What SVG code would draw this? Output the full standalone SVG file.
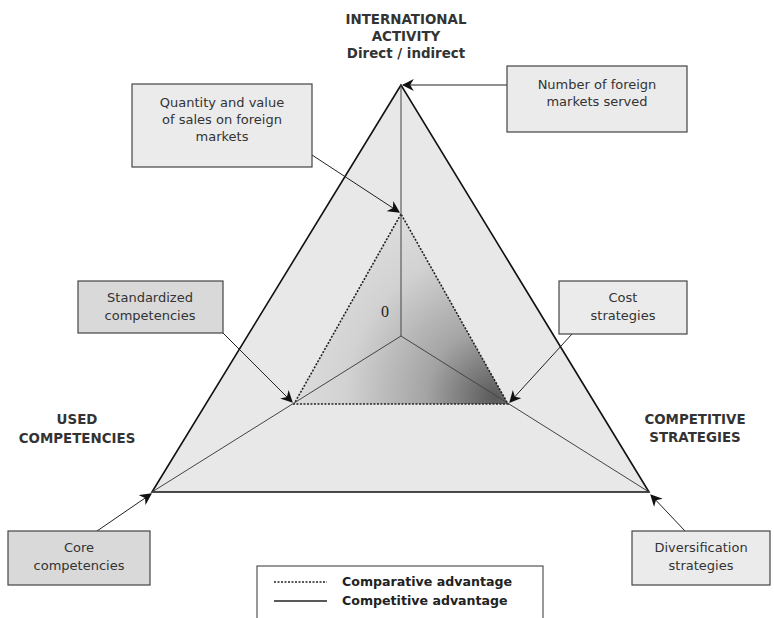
<svg xmlns="http://www.w3.org/2000/svg" width="774" height="618" viewBox="0 0 774 618">
  <style>
    .lbl { font-family: "DejaVu Sans", Verdana, sans-serif; font-size: 13px; fill: #333; text-anchor: middle; }
    .axis { font-family: "DejaVu Sans", Verdana, sans-serif; font-size: 13.4px; font-weight: bold; fill: #333; text-anchor: middle; }
    .leg { font-family: "DejaVu Sans", Verdana, sans-serif; font-size: 12.6px; font-weight: bold; fill: #222; }
    .box { fill: #ebebeb; stroke: #444; stroke-width: 1.2; }
    .box2 { fill: #d9d9d9; stroke: #444; stroke-width: 1.2; }
    .conn { fill: none; stroke: #222; stroke-width: 1; marker-end: url(#arr); }
    .spoke { stroke: #444; stroke-width: 1; fill: none; }
  </style>
  <defs>
    <marker id="arr" viewBox="0 0 10 10" refX="9" refY="5" markerWidth="12" markerHeight="12" markerUnits="userSpaceOnUse" orient="auto">
      <path d="M0,0 L10,5 L0,10 L3,5 Z" fill="#111"/>
    </marker>
    <radialGradient id="inner" gradientUnits="userSpaceOnUse" cx="495" cy="398" r="230">
      <stop offset="0" stop-color="#5a5a5a"/>
      <stop offset="0.3" stop-color="#a4a4a4"/>
      <stop offset="0.65" stop-color="#d2d2d2"/>
      <stop offset="1" stop-color="#e2e2e2"/>
    </radialGradient>
  </defs>
  <rect width="774" height="618" fill="#fff"/>

  <!-- outer triangle -->
  <g id="outer">
    <polygon points="401,85 152,492 649,492" fill="#e8e8e8" stroke="#111" stroke-width="1.6"/>
  </g>
  <!-- inner triangle (comparative advantage) -->
  <g id="inner-tri">
    <polygon points="401,214 294,404 508,404" fill="url(#inner)" stroke="#222" stroke-width="1.6" stroke-dasharray="2,1.5"/>
  </g>
  <!-- spokes from origin -->
  <g id="spokes">
    <line class="spoke" x1="401" y1="336" x2="401" y2="85"/>
    <line class="spoke" x1="401" y1="336" x2="152" y2="492"/>
    <line class="spoke" x1="401" y1="336" x2="649" y2="492"/>
  </g>
  <g id="origin"><text x="385" y="317" font-family="Liberation Serif, serif" font-size="16" fill="#222" text-anchor="middle">0</text></g>

  <!-- axis titles -->
  <g id="axis-international">
    <text class="axis" x="406" y="24">INTERNATIONAL</text>
    <text class="axis" x="406" y="41">ACTIVITY</text>
    <text class="axis" x="406" y="58">Direct / indirect</text>
  </g>
  <g id="axis-used">
    <text class="axis" x="77" y="424">USED</text>
    <text class="axis" x="77" y="443">COMPETENCIES</text>
  </g>
  <g id="axis-competitive">
    <text class="axis" x="695" y="424">COMPETITIVE</text>
    <text class="axis" x="695" y="442">STRATEGIES</text>
  </g>

  <!-- connectors -->
  <g id="connectors">
    <line class="conn" x1="312" y1="155" x2="399" y2="212"/>
    <line class="conn" x1="507" y1="85" x2="403" y2="85"/>
    <line class="conn" x1="223" y1="333" x2="292" y2="402"/>
    <line class="conn" x1="572" y1="334" x2="510" y2="402"/>
    <line class="conn" x1="97" y1="531" x2="151" y2="494"/>
    <line class="conn" x1="685" y1="531" x2="651" y2="495"/>
  </g>

  <!-- callout boxes -->
  <g id="quantity">
    <rect class="box" x="132" y="84" width="180" height="83"/>
    <text class="lbl" x="222" y="107">Quantity and value</text>
    <text class="lbl" x="222" y="124">of sales on foreign</text>
    <text class="lbl" x="222" y="141">markets</text>
  </g>
  <g id="number">
    <rect class="box" x="507" y="66" width="180" height="66"/>
    <text class="lbl" x="597" y="89">Number of foreign</text>
    <text class="lbl" x="597" y="106">markets served</text>
  </g>
  <g id="standardized">
    <rect class="box2" x="78" y="281" width="145" height="52"/>
    <text class="lbl" x="150" y="302">Standardized</text>
    <text class="lbl" x="150" y="320">competencies</text>
  </g>
  <g id="cost">
    <rect class="box" x="559" y="281" width="128" height="53"/>
    <text class="lbl" x="623" y="302">Cost</text>
    <text class="lbl" x="623" y="320">strategies</text>
  </g>
  <g id="core">
    <rect class="box2" x="8" y="531" width="142" height="54"/>
    <text class="lbl" x="79" y="552">Core</text>
    <text class="lbl" x="79" y="570">competencies</text>
  </g>
  <g id="diversification">
    <rect class="box" x="632" y="531" width="138" height="54"/>
    <text class="lbl" x="701" y="552">Diversification</text>
    <text class="lbl" x="701" y="570">strategies</text>
  </g>

  <!-- legend -->
  <g id="legend">
    <rect x="257" y="566" width="286" height="60" fill="#fff" stroke="#333" stroke-width="1"/>
    <line x1="274" y1="582" x2="327" y2="582" stroke="#222" stroke-width="1.6" stroke-dasharray="2,1.5"/>
    <line x1="274" y1="601" x2="327" y2="601" stroke="#222" stroke-width="1.6"/>
    <text class="leg" x="342" y="586">Comparative advantage</text>
    <text class="leg" x="342" y="605">Competitive advantage</text>
  </g>
</svg>
